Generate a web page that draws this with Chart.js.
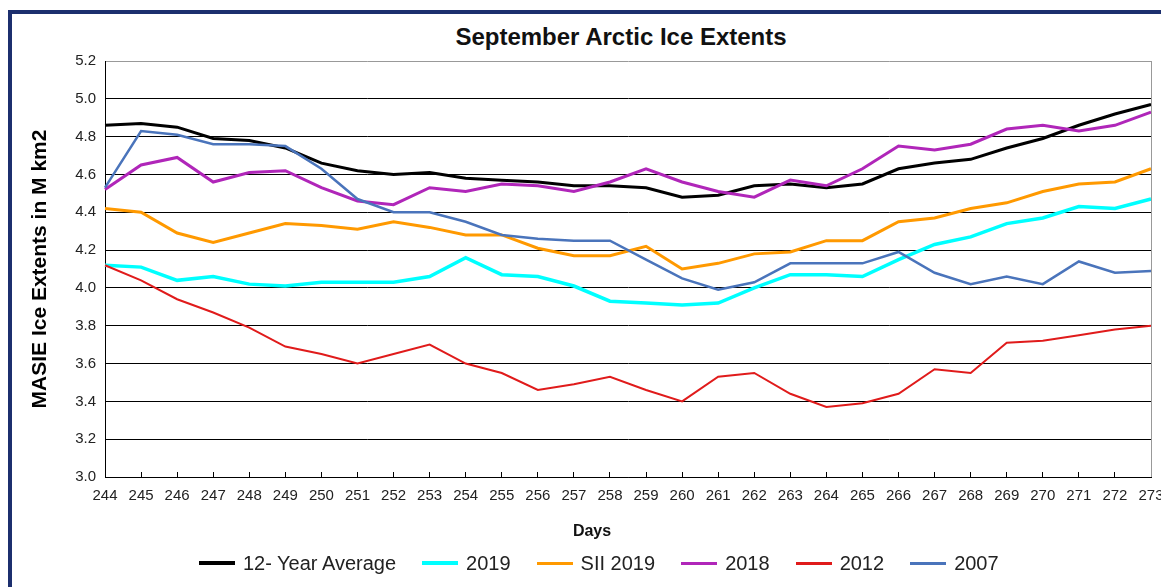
<!DOCTYPE html>
<html>
<head>
<meta charset="utf-8">
<script src="https://cdn.jsdelivr.net/npm/chart.js@4.4.1/dist/chart.umd.min.js"></script>
<style>
  body { margin: 0; background: #fff; font-family: 'Liberation Sans', Arial, sans-serif; }
  #wrap { position: relative; width: 1161px; height: 587px; overflow: hidden; background: #fff; }
  #chart { position: absolute; left: 0; top: 0; }
  .frame { position: absolute; left: 8px; top: 10px; width: 1300px; height: 700px;
           border-left: 4px solid #1c2f6e; border-top: 4px solid #1c2f6e; }
  .title { position: absolute; left: 371px; top: 22px; width: 500px; line-height: 30px;
           text-align: center; font-weight: bold; font-size: 24px; color: #111; }
  .xtitle { position: absolute; left: 542px; top: 521px; width: 100px; line-height: 20px;
            text-align: center; font-weight: bold; font-size: 16px; color: #111; }
  #legend { position: absolute; left: 199px; top: 551px; height: 24px; display: flex;
            align-items: center; font-size: 20px; color: #222; white-space: nowrap; }
  #legend .sw { display: inline-block; width: 36px; margin-right: 8px; }
  #legend .item { display: flex; align-items: center; margin-right: 26px; }
</style>
</head>
<body>
<div id="wrap">
  <div class="frame"></div>
  <div class="title">September Arctic Ice Extents</div>
  <canvas id="chart" width="1161" height="587"></canvas>
  <div class="xtitle">Days</div>
  <div id="legend"></div>
</div>
<script>
// day of year
const days = ['244', '245', '246', '247', '248', '249', '250', '251', '252', '253',
              '254', '255', '256', '257', '258', '259', '260', '261', '262', '263',
              '264', '265', '266', '267', '268', '269', '270', '271', '272', '273'];

// extents in M km2
const avg12 = [4.86, 4.87, 4.85, 4.79, 4.78, 4.74, 4.66, 4.62, 4.60, 4.61,
               4.58, 4.57, 4.56, 4.54, 4.54, 4.53, 4.48, 4.49, 4.54, 4.55,
               4.53, 4.55, 4.63, 4.66, 4.68, 4.74, 4.79, 4.86, 4.92, 4.97];
const y2019 = [4.12, 4.11, 4.04, 4.06, 4.02, 4.01, 4.03, 4.03, 4.03, 4.06,
               4.16, 4.07, 4.06, 4.01, 3.93, 3.92, 3.91, 3.92, 4.00, 4.07,
               4.07, 4.06, 4.15, 4.23, 4.27, 4.34, 4.37, 4.43, 4.42, 4.47];
const sii2019 = [4.42, 4.40, 4.29, 4.24, 4.29, 4.34, 4.33, 4.31, 4.35, 4.32,
                 4.28, 4.28, 4.21, 4.17, 4.17, 4.22, 4.10, 4.13, 4.18, 4.19,
                 4.25, 4.25, 4.35, 4.37, 4.42, 4.45, 4.51, 4.55, 4.56, 4.63];
const y2018 = [4.52, 4.65, 4.69, 4.56, 4.61, 4.62, 4.53, 4.46, 4.44, 4.53,
               4.51, 4.55, 4.54, 4.51, 4.56, 4.63, 4.56, 4.51, 4.48, 4.57,
               4.54, 4.63, 4.75, 4.73, 4.76, 4.84, 4.86, 4.83, 4.86, 4.93];
const y2012 = [4.12, 4.04, 3.94, 3.87, 3.79, 3.69, 3.65, 3.60, 3.65, 3.70,
               3.60, 3.55, 3.46, 3.49, 3.53, 3.46, 3.40, 3.53, 3.55, 3.44,
               3.37, 3.39, 3.44, 3.57, 3.55, 3.71, 3.72, 3.75, 3.78, 3.80];
const y2007 = [4.53, 4.83, 4.81, 4.76, 4.76, 4.75, 4.63, 4.47, 4.40, 4.40,
               4.35, 4.28, 4.26, 4.25, 4.25, 4.15, 4.05, 3.99, 4.03, 4.13,
               4.13, 4.13, 4.19, 4.08, 4.02, 4.06, 4.02, 4.14, 4.08, 4.09];

const series = [
    { label: '12- Year Average', data: avg12, color: '#000000', width: 3, swatch: 4 },
    { label: '2019', data: y2019, color: '#00ffff', width: 3.5, swatch: 4 },
    { label: 'SII 2019', data: sii2019, color: '#ff9900', width: 3, swatch: 3 },
    { label: '2018', data: y2018, color: '#b026b9', width: 3, swatch: 3 },
    { label: '2012', data: y2012, color: '#e01b1b', width: 2, swatch: 3 },
    { label: '2007', data: y2007, color: '#4a74bb', width: 2.5, swatch: 3 },
];

const font = "'Liberation Sans', Arial, sans-serif";

// right edge of the plot box is grey in the original
const plotFrame = {
    id: 'plotFrame',
    afterDraw(chart) {
        const { ctx, chartArea } = chart;
        ctx.save();
        ctx.strokeStyle = '#999';
        ctx.lineWidth = 1;
        ctx.beginPath();
        ctx.moveTo(chartArea.right + 0.5, chartArea.top);
        ctx.lineTo(chartArea.right + 0.5, chartArea.bottom);
        ctx.stroke();
        ctx.restore();
    }
};

new Chart(document.getElementById('chart'), {
    type: 'line',
    data: {
        labels: days,
        datasets: series.map((s, i) => ({
            label: s.label,
            data: s.data,
            borderColor: s.color,
            backgroundColor: s.color,
            borderWidth: s.width,
            pointRadius: 0,
            tension: 0,
            fill: false,
            order: series.length - i
        }))
    },
    options: {
        responsive: false,
        animation: false,
        layout: { padding: { left: 0, right: 10, top: 61, bottom: 0 } },
        plugins: {
            legend: { display: false },
            tooltip: { enabled: false }
        },
        scales: {
            x: {
                offset: false,
                grid: { drawOnChartArea: false, drawTicks: true, tickLength: -5, color: '#000' },
                border: { color: '#000', width: 1 },
                ticks: { color: '#222', font: { family: font, size: 15 }, padding: 15, maxRotation: 0, autoSkip: false },
                afterFit(scale) {
                    scale.height = 110;
                    scale.paddingRight = 0;
                }
            },
            y: {
                min: 3.0,
                max: 5.2,
                grid: {
                    color: ctx => (ctx.tick && ctx.tick.value > 5.1 ? '#999' : '#000'),
                    drawTicks: false
                },
                border: { color: '#000', width: 1 },
                ticks: {
                    stepSize: 0.2,
                    color: '#222',
                    padding: 9,
                    font: { family: font, size: 15 },
                    callback: v => Number(v).toFixed(1)
                },
                title: {
                    display: true,
                    text: 'MASIE Ice Extents in M km2',
                    color: '#000',
                    font: { family: font, size: 21, weight: 'bold' },
                    padding: { top: 28, bottom: 0 }
                },
                afterFit(scale) {
                    scale.width = 105;
                }
            }
        }
    },
    plugins: [plotFrame]
});

// legend drawn as html under the plot
const legend = document.getElementById('legend');
series.forEach(s => {
    const item = document.createElement('span');
    item.className = 'item';
    const sw = document.createElement('span');
    sw.className = 'sw';
    sw.style.height = s.swatch + 'px';
    sw.style.background = s.color;
    item.appendChild(sw);
    item.appendChild(document.createTextNode(s.label));
    legend.appendChild(item);
});
</script>
</body>
</html>
